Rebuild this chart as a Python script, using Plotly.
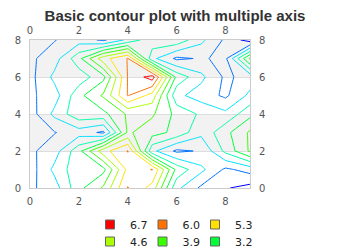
import plotly.graph_objects as go

# Data matrix (first row drawn at the top, as in the original chart)
z_rows = [
    [0.5, 1.1, 1.5, 1, 2.0, 3, 3, 2, 1, 0.1],
    [1.0, 1.5, 3.0, 5, 6.0, 2, 1, 1.2, 1, 4],
    [0.9, 2.0, 2.1, 3, 6.0, 7, 3, 2, 1, 1.4],
    [1.0, 1.5, 3.0, 4, 6.0, 5, 2, 1.5, 1, 2],
    [0.8, 2.0, 3.0, 3, 4.0, 4, 3, 2.4, 2, 3],
    [0.6, 1.1, 1.5, 1, 4.0, 3.5, 3, 2, 3, 4],
    [1.0, 1.5, 3.0, 5, 6.0, 2, 1, 1.2, 2.7, 4],
    [0.8, 2.0, 3.0, 3, 5.5, 6, 3, 2, 1, 1.4],
    [1.0, 1.5, 3.0, 4, 6.0, 5, 2, 1, 0.5, 0.2],
]
x_vals = list(range(10))
y_vals = list(range(9))
x_ticks = [0, 2, 4, 6, 8]
y_ticks = [0, 2, 4, 6, 8]
n_isobars = 10
# isobar colours, from the lowest level to the highest
isobar_colors = ["#0000ff", "#0071ff", "#00e2ff", "#00ffaa", "#00ff39",
                 "#39ff00", "#aaff00", "#ffe200", "#ff7100", "#ff0000"]
legend_columns = 3

z = z_rows[::-1]  # bottom row first so that y increases upwards
zmin = min(min(r) for r in z_rows)
zmax = max(max(r) for r in z_rows)
step = (zmax - zmin) / n_isobars
levels = [zmin + step / 2 + step * i for i in range(n_isobars)]

colorscale = [[i / (n_isobars - 1), c] for i, c in enumerate(isobar_colors)]

fig = go.Figure()
fig.add_trace(go.Contour(
    x=x_vals, y=y_vals, z=z,
    contours=dict(start=levels[0], end=levels[-1], size=step, coloring="lines"),
    colorscale=colorscale, showscale=False, line=dict(width=1, smoothing=0),
    hoverinfo="skip", showlegend=False,
))

plot_w = 350 - 30 - 100
plot_h = 250 - 40 - 62
legend_style = dict(orientation="h", xanchor="left", yanchor="top",
                    font=dict(family="DejaVu Sans", size=11, color="#222"),
                    bgcolor="rgba(0,0,0,0)", itemclick=False, itemdoubleclick=False)
legends = {}
entries = list(reversed(list(zip(levels, isobar_colors))))
for k, (lvl, col) in enumerate(entries):
    row, colm = divmod(k, legend_columns)
    key = "legend" if k == 0 else f"legend{k + 1}"
    legends[key] = dict(legend_style,
                        x=(60 + 52.5 * colm) / plot_w,
                        y=-(22 + 17 * row) / plot_h)
    fig.add_trace(go.Scatter(
        x=[None], y=[None], mode="markers", xaxis="x2", yaxis="y2",
        marker=dict(symbol="square", size=9, color=col, line=dict(color="#666", width=1)),
        name=f"{lvl:.1f}", legend=key,
    ))

tickfont = dict(family="DejaVu Sans", size=10, color="#555")
common_axis = dict(showline=True, linecolor="#cccccc", linewidth=1, ticks="",
                   zeroline=False, tickfont=tickfont, fixedrange=True)

shapes = []
for a, b in zip(y_ticks[1::2], y_ticks[2::2] + [y_ticks[-1] + (y_ticks[1] - y_ticks[0])]):
    shapes.append(dict(type="rect", xref="x domain", yref="y", x0=0, x1=1,
                       y0=a, y1=min(b, y_vals[-1]), fillcolor="#f2f2f2",
                       line=dict(width=0), layer="below"))

fig.update_layout(
    width=350, height=250,
    margin=dict(l=30, r=100, t=40, b=62, autoexpand=False),
    paper_bgcolor="white", plot_bgcolor="white",
    title=dict(text="<b>Basic contour plot with multiple axis</b>",
               font=dict(family="Liberation Sans, Arial", size=15, color="#333"),
               x=0.5, xref="container", xanchor="center",
               y=1 - 16 / 250, yref="container", yanchor="middle"),
    xaxis=dict(range=[x_vals[0], x_vals[-1]], tickvals=x_ticks, showgrid=False,
               ticklabelstandoff=4, **common_axis),
    xaxis2=dict(range=[x_vals[0], x_vals[-1]], tickvals=x_ticks, showgrid=False,
                overlaying="x", side="top", anchor="y", ticklabelstandoff=1, **common_axis),
    yaxis=dict(range=[y_vals[0], y_vals[-1]], tickvals=y_ticks, showgrid=True,
               gridcolor="#dddddd", ticklabelstandoff=6, **common_axis),
    yaxis2=dict(range=[y_vals[0], y_vals[-1]], tickvals=y_ticks, showgrid=False,
                overlaying="y", side="right", anchor="x", ticklabelstandoff=6, **common_axis),
    shapes=shapes,
    showlegend=True,
    **legends,
)

fig.write_html("out.html")
